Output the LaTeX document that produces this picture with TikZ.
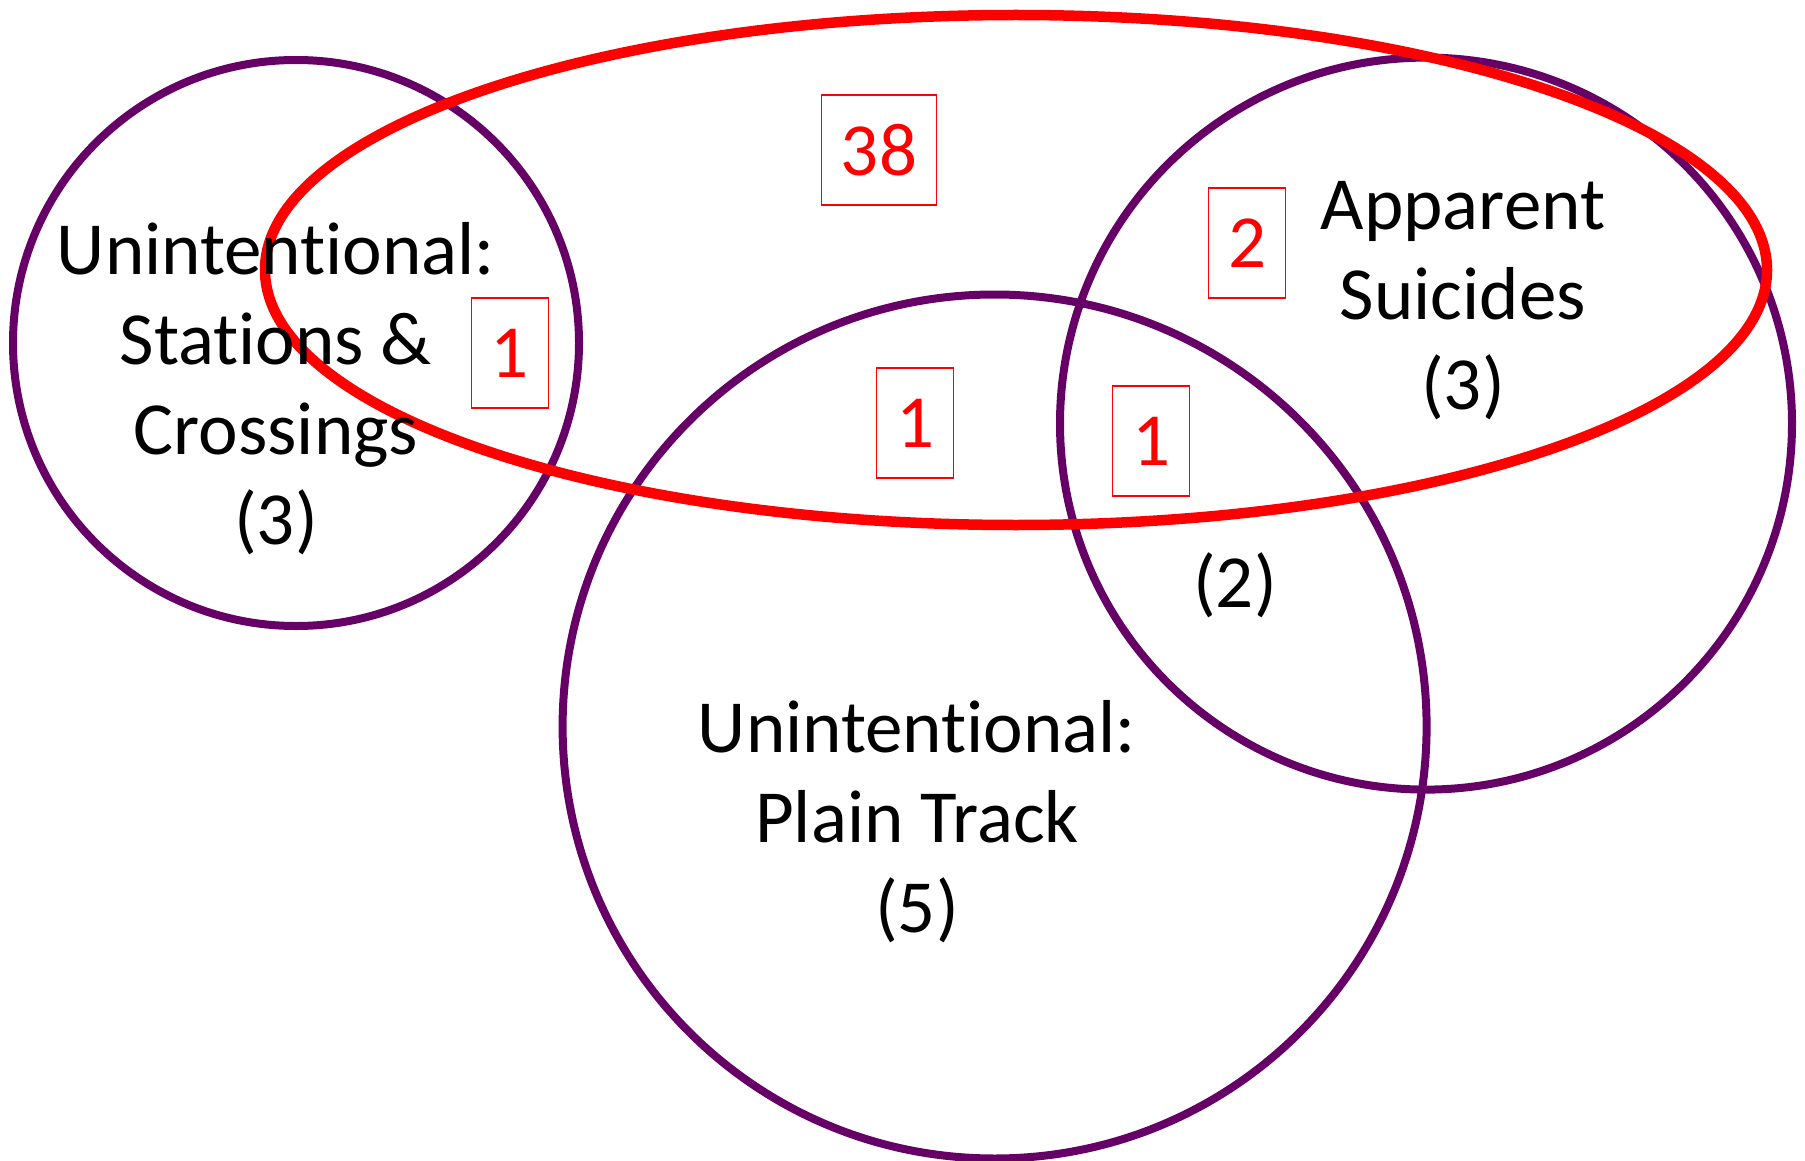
\documentclass[tikz,border=0pt]{standalone}
\usepackage{fontspec}
\setmainfont[Ligatures=NoCommon]{Carlito}
\definecolor{vennpurple}{RGB}{102,0,102}

\begin{document}
\begin{tikzpicture}[x=1pt, y=-1pt,
    venn/.style={draw=vennpurple, line width=8pt},
    count/.style={draw=red, line width=1.4pt, text=red, inner xsep=19.5pt, inner ysep=0pt,
      minimum height=110pt, font=\fontsize{75}{90}\selectfont},
    lbl/.style={align=center, font=\fontsize{75}{90}\selectfont}]
  \useasboundingbox (0,0) rectangle (1805,1161);
  % ---------------- the three categories
  \draw[venn] (296,343) circle (283);
  \draw[venn] (994.6,726.5) circle (432);
  \draw[venn] (1426,423.6) circle (366);
  % ---------------- all cases
  \draw[red, line width=10.5pt] (1016,270) ellipse (751 and 255);
  % ---------------- labels
  \node[lbl] (stations) at (276,389) {Unintentional:\\Stations \&\\Crossings\\(3)};
  \node[lbl] (suicides) at (1463,301) {Apparent\\Suicides\\(3)};
  \node[lbl] (plain) at (917,822) {Unintentional:\\Plain Track\\(5)};
  \node[lbl] (overlap) at (1235,585.5) {(2)};
  % ---------------- counts
  \node[count] (n38) at (879,150) {38};
  \node[count] (n1a) at (510,353) {1};
  \node[count] (n1b) at (915,423) {1};
  \node[count] (n1c) at (1151,441) {1};
  \node[count] (n2) at (1247,243) {2};
\end{tikzpicture}
\end{document}
